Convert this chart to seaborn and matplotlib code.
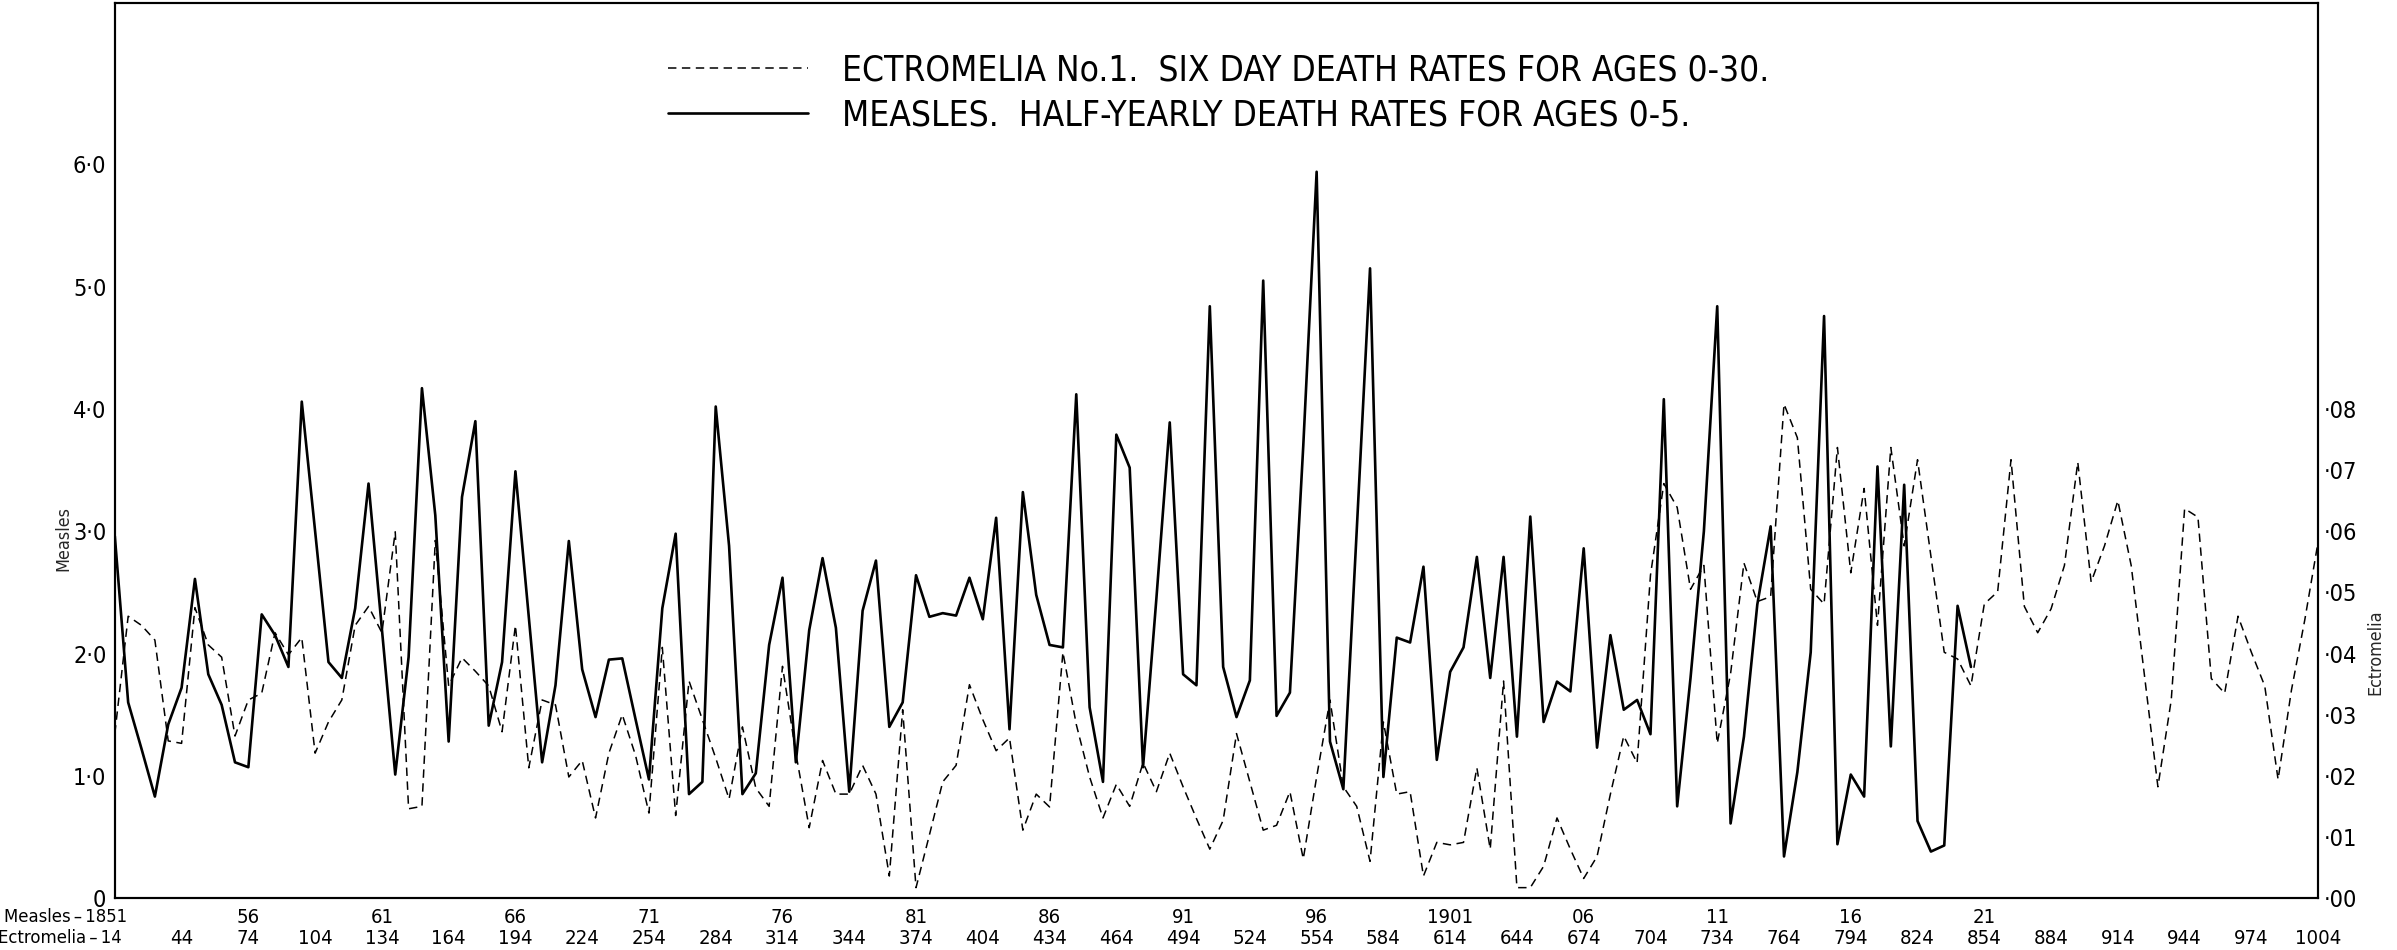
import numpy as np
import pandas as pd
import matplotlib
matplotlib.use("Agg")
import matplotlib.pyplot as plt
from matplotlib import font_manager
from matplotlib.font_manager import FontProperties
import seaborn as sns

# ---------------- data ----------------
# Measles: half-yearly death rates, ages 0-5, 1851 (first half) onwards
measles = [
    2.96, 1.60, 1.22, 0.83, 1.42, 1.72, 2.61, 1.83, 1.58, 1.11,
    1.07, 2.32, 2.15, 1.89, 4.06, 3.00, 1.93, 1.80, 2.37, 3.39,
    2.20, 1.01, 1.97, 4.17, 3.13, 1.28, 3.28, 3.90, 1.41, 1.93,
    3.49, 2.30, 1.11, 1.74, 2.92, 1.87, 1.48, 1.95, 1.96, 1.46,
    0.97, 2.37, 2.98, 0.85, 0.95, 4.02, 2.88, 0.85, 1.02, 2.07,
    2.62, 1.11, 2.19, 2.78, 2.21, 0.87, 2.35, 2.76, 1.40, 1.60,
    2.64, 2.30, 2.33, 2.31, 2.62, 2.28, 3.11, 1.38, 3.32, 2.48,
    2.07, 2.05, 4.12, 1.56, 0.95, 3.79, 3.52, 1.07, 2.45, 3.89,
    1.83, 1.74, 4.84, 1.89, 1.48, 1.78, 5.05, 1.49, 1.68, 3.70,
    5.94, 1.28, 0.89, 3.00, 5.15, 0.99, 2.13, 2.09, 2.71, 1.13,
    1.85, 2.05, 2.79, 1.80, 2.79, 1.32, 3.12, 1.44, 1.77, 1.69,
    2.86, 1.23, 2.15, 1.54, 1.62, 1.34, 4.08, 0.75, 1.80, 3.00,
    4.84, 0.61, 1.32, 2.40, 3.04, 0.34, 1.03, 2.01, 4.76, 0.44,
    1.01, 0.83, 3.53, 1.24, 3.38, 0.63, 0.38, 0.43, 2.39, 1.89,
]

# Ectromelia No.1: six-day death rates, ages 0-30 (in hundredths)
ectromelia_pct = [
    2.69, 4.61, 4.46, 4.22, 2.57, 2.53, 4.75, 4.14, 3.94, 2.65,
    3.24, 3.35, 4.34, 3.98, 4.26, 2.37, 2.88, 3.24, 4.46, 4.77,
    4.34, 5.99, 1.46, 1.50, 5.85, 3.47, 3.93, 3.71, 3.47, 2.72,
    4.46, 2.13, 3.24, 3.16, 1.98, 2.25, 1.31, 2.37, 3.00, 2.33,
    1.39, 4.10, 1.35, 3.55, 2.92, 2.29, 1.62, 2.80, 1.80, 1.50,
    3.79, 2.37, 1.15, 2.25, 1.70, 1.70, 2.17, 1.70, 0.36, 3.08,
    0.17, 1.03, 1.90, 2.17, 3.49, 2.92, 2.41, 2.62, 1.11, 1.70,
    1.49, 4.02, 2.84, 1.98, 1.31, 1.86, 1.50, 2.21, 1.74, 2.37,
    1.82, 1.30, 0.80, 1.27, 2.69, 1.90, 1.11, 1.19, 1.74, 0.64,
    1.98, 3.24, 1.82, 1.50, 0.60, 2.88, 1.70, 1.74, 0.36, 0.91,
    0.87, 0.91, 2.13, 0.80, 3.55, 0.17, 0.17, 0.52, 1.31, 0.80,
    0.32, 0.68, 1.70, 2.65, 2.21, 5.28, 6.78, 6.39, 5.05, 5.44,
    2.53, 3.67, 5.48, 4.85, 4.93, 8.08, 7.53, 5.05, 4.81, 7.37,
    5.32, 6.70, 4.46, 7.37, 5.76, 7.17, 5.60, 4.02, 3.91, 3.47,
    4.81, 5.01, 7.17, 4.77, 4.34, 4.73, 5.44, 7.13, 5.17, 5.76,
    6.50, 5.44, 3.63, 1.82, 3.24, 6.37, 6.23, 3.59, 3.35, 4.61,
    4.02, 3.47, 1.94, 3.40, 4.55, 5.83,
]

ect_tick_days = [14, 44, 74, 104, 134, 164, 194, 224, 254, 284, 314, 344,
                 374, 404, 434, 464, 494, 524, 554, 584, 614, 644, 674, 704,
                 734, 764, 794, 824, 854, 884, 914, 944, 974, 1004]
measles_tick_days = [14, 74, 134, 194, 254, 314, 374, 434, 494, 554, 614,
                     674, 734, 794, 854]
measles_tick_years = ["1851", "56", "61", "66", "71", "76", "81", "86", "91",
                      "96", "1901", "06", "11", "16", "21"]

left_ticks = [0, 1, 2, 3, 4, 5, 6]
left_tick_labels = ["0", "1·0", "2·0", "3·0", "4·0", "5·0", "6·0"]
right_ticks = [0.00, 0.01, 0.02, 0.03, 0.04, 0.05, 0.06, 0.07, 0.08]
right_tick_labels = ["·00", "·01", "·02", "·03", "·04", "·05", "·06", "·07", "·08"]

legend_ect = "ECTROMELIA No.1.  SIX DAY DEATH RATES FOR AGES 0-30."
legend_measles = "MEASLES.  HALF-YEARLY DEATH RATES FOR AGES 0-5."

# ---------------- style ----------------
sns.set_theme(style="white")
plt.rcParams["font.family"] = ["DejaVu Sans"]
plt.rcParams["text.color"] = "black"

try:
    _p = font_manager.findfont(FontProperties(family="DejaVu Sans", stretch="condensed"),
                               fallback_to_default=False)
    has_cond = "condensed" in _p.lower()
except Exception:
    has_cond = False
stretch = "condensed" if has_cond else "normal"
plt.rcParams["font.stretch"] = stretch

k = 1.12 if has_cond else 1.0   # enlarge when narrower glyphs are available
tick_fs = 15 * k
xtick_fs = 13 * k
leg_fs = 22.6 * k
lab_fs = 11.5 * k
corner_fs = 11.8 * k

step = 6  # both series share a 6-day / half-year grid
df_m = pd.DataFrame({"day": ect_tick_days[0] + step * np.arange(len(measles)),
                     "rate": measles})
df_e = pd.DataFrame({"day": ect_tick_days[0] + step * np.arange(len(ectromelia_pct)),
                     "rate": np.array(ectromelia_pct) / 100.0})

fig = plt.figure(figsize=(23.97, 9.5), dpi=100)
fig.patch.set_facecolor("white")
ax = fig.add_axes([0.0479, 0.0547, 0.9192, 0.9421])
ax2 = ax.twinx()

sns.lineplot(data=df_m, x="day", y="rate", ax=ax, color="black",
             linewidth=1.9, legend=False)
sns.lineplot(data=df_e, x="day", y="rate", ax=ax2, color="black",
             linewidth=1.1, linestyle="--", legend=False)
ax2.lines[0].set_dashes([5.5, 3.6])

ax.set_xlim(ect_tick_days[0], ect_tick_days[-1])
ax.set_ylim(0, 7.32)
ax2.set_ylim(0, 0.1464)

for a in (ax, ax2):
    a.grid(False)
    a.set_facecolor("none")
    for s in a.spines.values():
        s.set_color("black")
        s.set_linewidth(1.5)

ax.set_yticks(left_ticks, left_tick_labels)
ax.tick_params(axis="y", length=0, pad=6, labelsize=tick_fs, labelcolor="black")
ax2.set_yticks(right_ticks, right_tick_labels)
ax2.tick_params(axis="y", length=0, pad=4, labelsize=tick_fs, labelcolor="black")

# two rows of x labels: ectromelia days (major) and measles years (minor)
ax.xaxis.remove_overlapping_locs = False
ax.set_xticks(ect_tick_days, [""] + [str(d) for d in ect_tick_days[1:]])
ax.set_xticks(measles_tick_days, [""] + measles_tick_years[1:], minor=True)
ax.tick_params(axis="x", which="major", length=0, pad=22, labelsize=xtick_fs,
               labelcolor="black")
ax.tick_params(axis="x", which="minor", length=0, pad=7.5, labelsize=xtick_fs,
               labelcolor="black", bottom=True)

ax.annotate(f"Measles\u2009–\u2009{measles_tick_years[0]}", xy=(ect_tick_days[0], 0),
            xycoords=("data", "axes fraction"), xytext=(9, -7.5),
            textcoords="offset points", ha="right", va="top",
            fontsize=corner_fs, fontstretch=stretch)
ax.annotate(f"Ectromelia\u2009–\u2009{ect_tick_days[0]}", xy=(ect_tick_days[0], 0),
            xycoords=("data", "axes fraction"), xytext=(5, -22),
            textcoords="offset points", ha="right", va="top",
            fontsize=corner_fs, fontstretch=stretch)

ax.set_xlabel("")
ax.set_ylabel("Measles", fontsize=lab_fs)
ax.yaxis.set_label_coords(-0.0194, 0.402)
ax2.set_ylabel("Ectromelia", fontsize=lab_fs)
ax2.yaxis.set_label_coords(1.022, 0.275)

for t in (ax.get_xticklabels(which="both") + ax.get_yticklabels()
          + ax2.get_yticklabels() + [ax.yaxis.label, ax2.yaxis.label]):
    t.set_fontstretch(stretch)

leg = ax2.legend([ax2.lines[0], ax.lines[0]], [legend_ect, legend_measles],
                 loc="upper left", bbox_to_anchor=(0.251, 0.944),
                 borderaxespad=0, borderpad=0, frameon=False,
                 prop=FontProperties(family="DejaVu Sans", size=leg_fs, stretch=stretch),
                 handlelength=4.0, handletextpad=0.95, labelspacing=0.32)

fig.savefig("out.png", dpi=100, facecolor="white")
